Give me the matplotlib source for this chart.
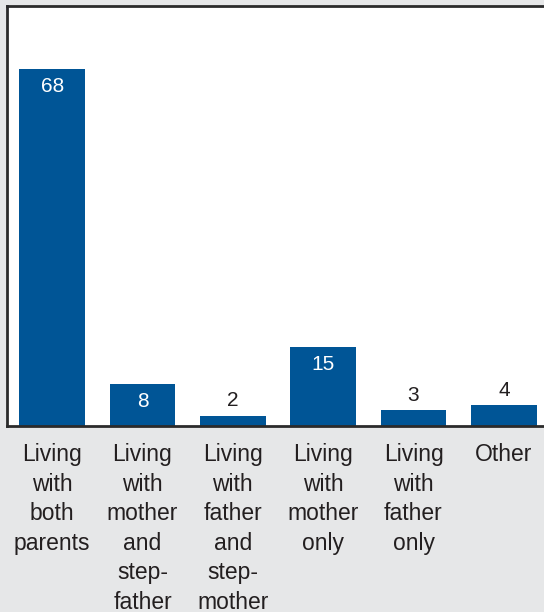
"""Living arrangements bar chart."""

import matplotlib.pyplot as plt

plt.rcParams["font.family"] = ["Liberation Sans", "DejaVu Sans"]

categories = [
    "Living\nwith\nboth\nparents",
    "Living\nwith\nmother\nand\nstep-\nfather",
    "Living\nwith\nfather\nand\nstep-\nmother",
    "Living\nwith\nmother\nonly",
    "Living\nwith\nfather\nonly",
    "Other",
]
values = [68, 8, 2, 15, 3, 4]

BAR_COLOR = "#005596"
BG_COLOR = "#e6e7e8"
FRAME_COLOR = "#2b2b2b"

fig = plt.figure(figsize=(5.44, 6.12), dpi=100, facecolor=BG_COLOR)
ax = fig.add_axes([7 / 544, 1 - 426 / 612, 542 / 544, 420 / 612])
ax.set_facecolor("white")

x = range(len(values))
bars = ax.bar(x, values, width=0.73, color=BAR_COLOR)

ax.set_xlim(-0.5, 5.5)
ax.set_ylim(0, 80)

for b, v in zip(bars, values):
    cx = b.get_x() + b.get_width() / 2
    if v >= 6:
        ax.annotate(str(v), (cx, v), xytext=(0, -12.5), textcoords="offset points",
                    ha="center", va="center", color="white", fontsize=15)
    else:
        ax.annotate(str(v), (cx, v), xytext=(0, 10.5), textcoords="offset points",
                    ha="center", va="center", color="#231f20", fontsize=15)

ax.set_xticks(list(x))
ax.set_xticklabels(categories, fontsize=16.5, linespacing=1.36, color="#231f20",
                   va="top")
ax.tick_params(axis="x", length=0, pad=12.5)
ax.set_yticks([])

for side in ["left", "top", "bottom"]:
    ax.spines[side].set_color(FRAME_COLOR)
    ax.spines[side].set_linewidth(2)
ax.spines["right"].set_visible(False)

fig.savefig("out.png", dpi=100, facecolor=BG_COLOR)
